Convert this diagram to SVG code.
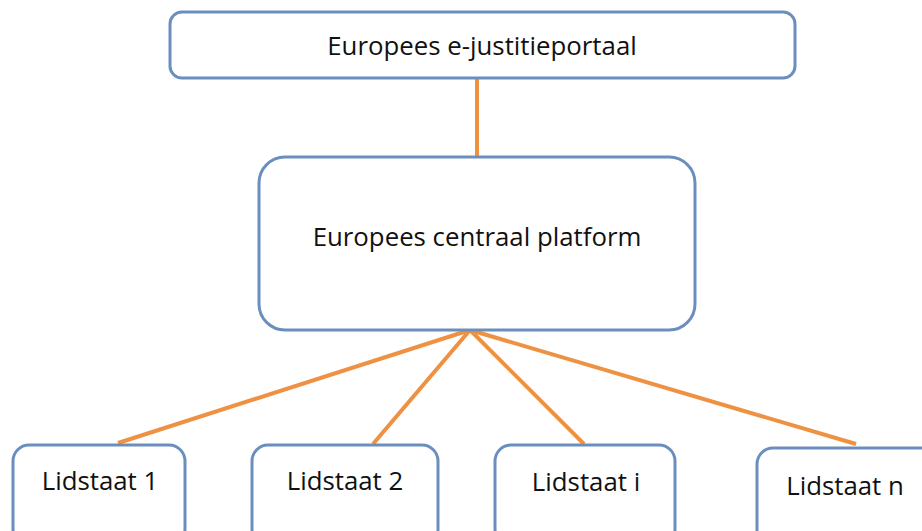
<svg xmlns="http://www.w3.org/2000/svg" width="922" height="531" viewBox="0 0 922 531">
<style>
.box{fill:#fff;stroke:#6a8fbf;stroke-width:3}
.lbl{font-family:"Open Sans","Liberation Sans",sans-serif;font-size:25.8px;fill:#111;text-anchor:middle}
.con line{stroke:#ee9142;stroke-width:4;stroke-linecap:butt}
</style>
<rect width="922" height="531" fill="#fff"/>
<g class="con" id="connectors">
<line x1="477" y1="78" x2="477" y2="157"/>
<line x1="470" y1="330" x2="118" y2="443"/>
<line x1="470" y1="330" x2="373" y2="444"/>
<line x1="470" y1="330" x2="584" y2="444"/>
<line x1="470" y1="330" x2="856" y2="444"/>
</g>
<g id="portal"><rect class="box" x="170" y="12" width="625" height="66" rx="12"/><text class="lbl" x="482" y="55">Europees e-justitieportaal</text></g>
<g id="platform"><rect class="box" x="259" y="157" width="436" height="173" rx="26"/><text class="lbl" x="477" y="246">Europees centraal platform</text></g>
<g id="ls1"><rect class="box" x="13" y="445" width="172" height="100" rx="16"/><text class="lbl" x="100" y="490">Lidstaat 1</text></g>
<g id="ls2"><rect class="box" x="252" y="445" width="186" height="100" rx="16"/><text class="lbl" x="345" y="490">Lidstaat 2</text></g>
<g id="lsi"><rect class="box" x="495" y="445" width="180" height="100" rx="16"/><text class="lbl" x="586" y="491">Lidstaat i</text></g>
<g id="lsn"><rect class="box" x="757" y="448" width="180" height="100" rx="16"/><text class="lbl" x="845" y="495">Lidstaat n</text></g>
</svg>
